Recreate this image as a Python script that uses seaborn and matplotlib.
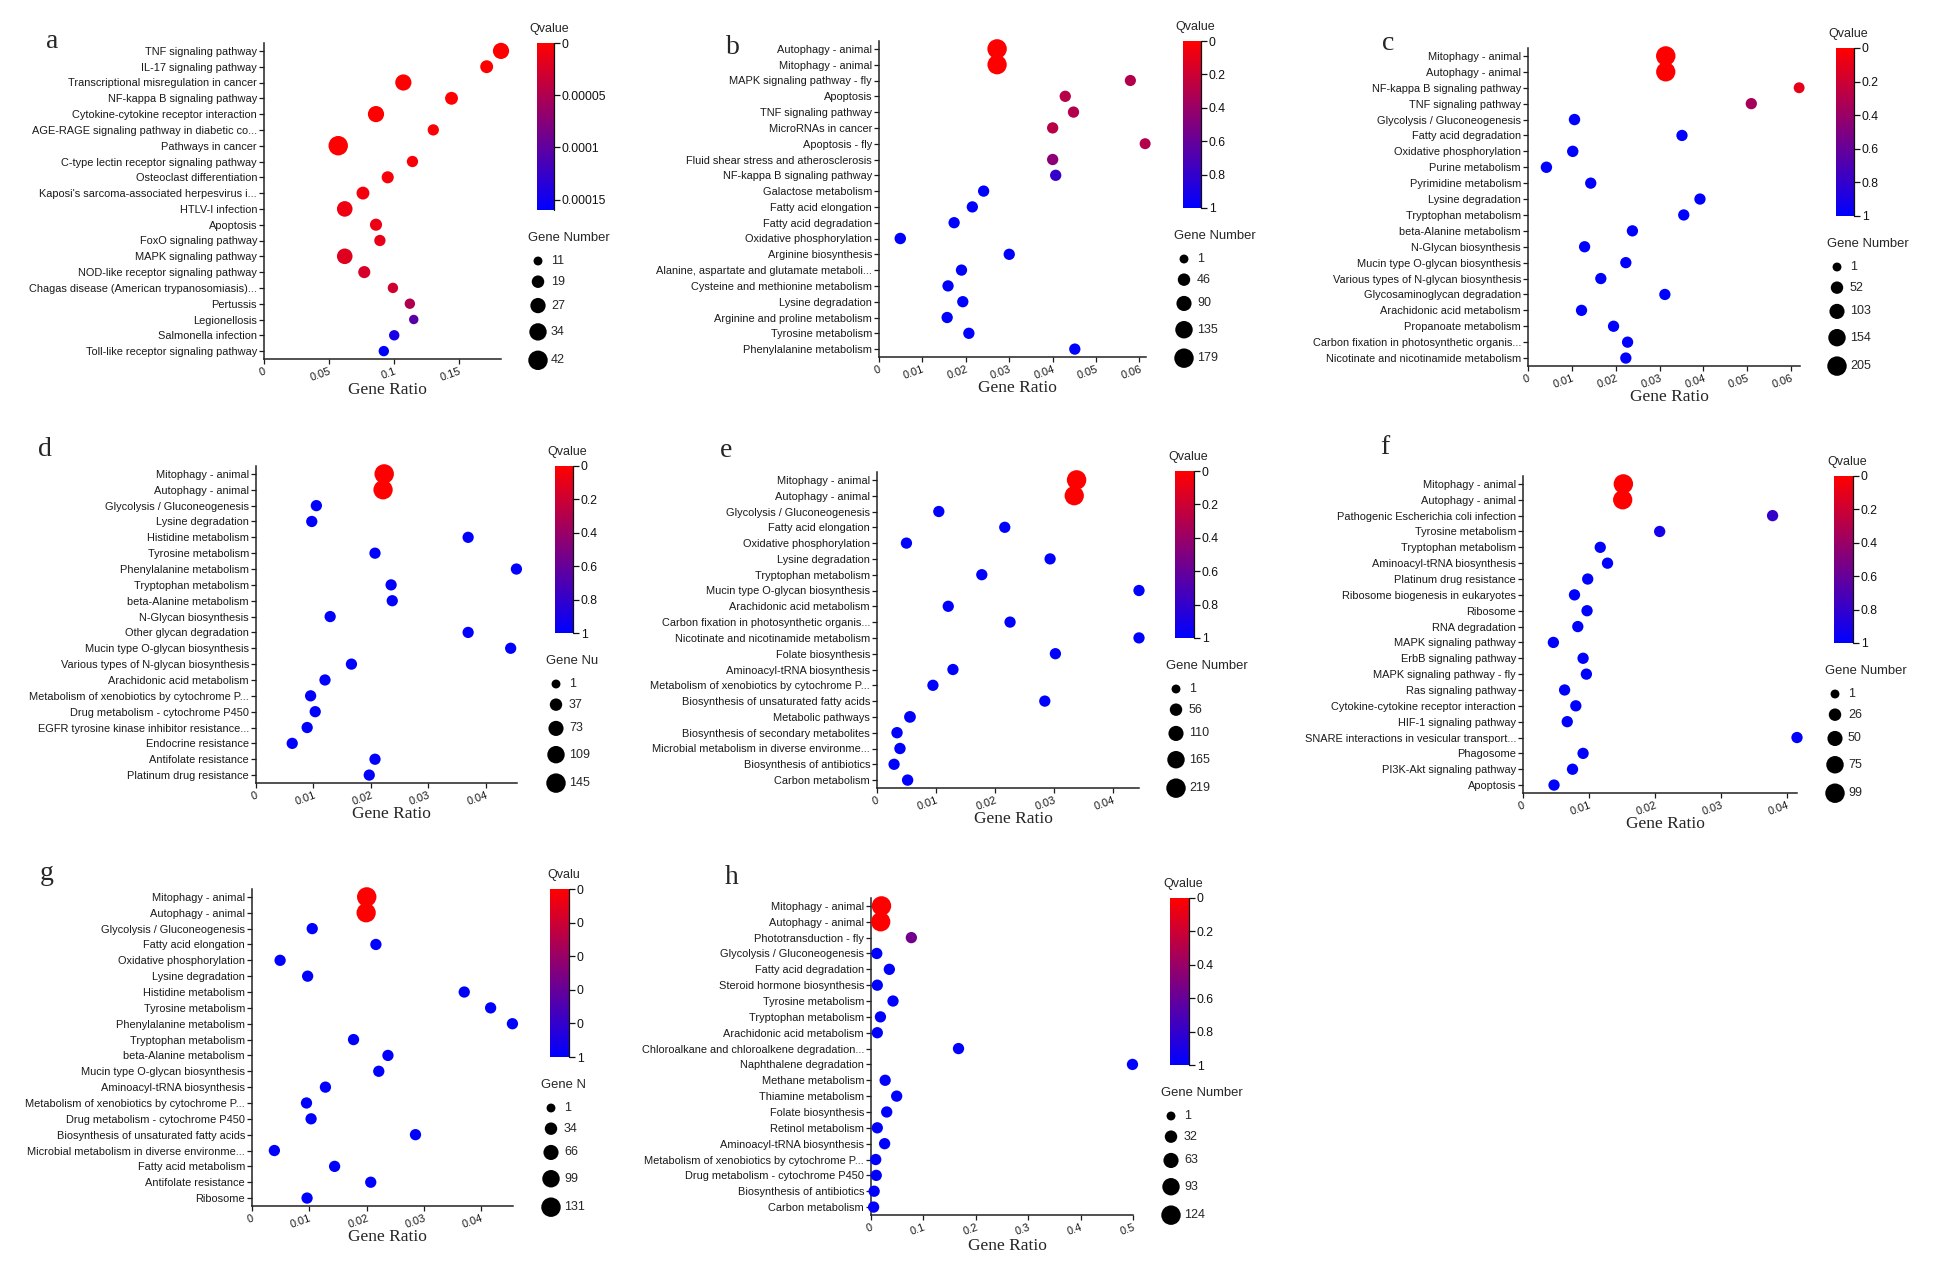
import numpy as np
import pandas as pd
import seaborn as sns
import matplotlib.pyplot as plt
from matplotlib.colors import LinearSegmentedColormap, Normalize
from matplotlib.cm import ScalarMappable
from matplotlib.ticker import FuncFormatter

W, H = 1960, 1265
S_MIN, S_MAX = 41, 196  # marker area (pt^2) for smallest / largest legend value

# ---- panel a
a_terms = ['TNF signaling pathway', 'IL-17 signaling pathway', 'Transcriptional misregulation in cancer',
           'NF-kappa B signaling pathway', 'Cytokine-cytokine receptor interaction',
           'AGE-RAGE signaling pathway in diabetic co...', 'Pathways in cancer',
           'C-type lectin receptor signaling pathway', 'Osteoclast differentiation',
           "Kaposi's sarcoma-associated herpesvirus i...", 'HTLV-I infection', 'Apoptosis',
           'FoxO signaling pathway', 'MAPK signaling pathway', 'NOD-like receptor signaling pathway',
           'Chagas disease (American trypanosomiasis)...', 'Pertussis', 'Legionellosis',
           'Salmonella infection', 'Toll-like receptor signaling pathway']
a_ratio = [0.182, 0.171, 0.107, 0.144, 0.086, 0.130, 0.057, 0.114, 0.095, 0.076,
           0.062, 0.086, 0.089, 0.062, 0.077, 0.099, 0.112, 0.115, 0.100, 0.092]
a_genes = [30, 20, 30, 20, 30, 16, 42, 16, 18, 20, 28, 18, 16, 28, 18, 14, 14, 12, 14, 14]
a_q = [0, 0, 0, 0, 0, 0.000002, 0, 0.000004, 0.000005, 0.000008, 0.00001, 0.000012,
       0.000015, 0.00002, 0.000025, 0.00003, 0.00005, 0.000105, 0.000145, 0.00016]
a_legend = [11, 19, 27, 34, 42]

# ---- panel b
b_terms = ['Autophagy - animal', 'Mitophagy - animal', 'MAPK signaling pathway - fly', 'Apoptosis',
           'TNF signaling pathway', 'MicroRNAs in cancer', 'Apoptosis - fly',
           'Fluid shear stress and atherosclerosis', 'NF-kappa B signaling pathway', 'Galactose metabolism',
           'Fatty acid elongation', 'Fatty acid degradation', 'Oxidative phosphorylation',
           'Arginine biosynthesis', 'Alanine, aspartate and glutamate metaboli...',
           'Cysteine and methionine metabolism', 'Lysine degradation', 'Arginine and proline metabolism',
           'Tyrosine metabolism', 'Phenylalanine metabolism']
b_ratio = [0.0272, 0.0272, 0.0579, 0.0429, 0.0448, 0.0400, 0.0613, 0.0400, 0.0407, 0.0241,
           0.0215, 0.0173, 0.0049, 0.0300, 0.0190, 0.0159, 0.0193, 0.0157, 0.0207, 0.0451]
b_genes = [179, 176, 28, 30, 30, 30, 26, 30, 30, 30, 30, 30, 32, 30, 30, 30, 30, 30, 30, 30]
b_q = [0, 0, 0.3, 0.28, 0.3, 0.28, 0.3, 0.45, 0.8, 1, 1, 1, 1, 1, 1, 1, 1, 1, 1, 1]
b_legend = [1, 46, 90, 135, 179]

# ---- panel c
c_terms = ['Mitophagy - animal', 'Autophagy - animal', 'NF-kappa B signaling pathway', 'TNF signaling pathway',
           'Glycolysis / Gluconeogenesis', 'Fatty acid degradation', 'Oxidative phosphorylation',
           'Purine metabolism', 'Pyrimidine metabolism', 'Lysine degradation', 'Tryptophan metabolism',
           'beta-Alanine metabolism', 'N-Glycan biosynthesis', 'Mucin type O-glycan biosynthesis',
           'Various types of N-glycan biosynthesis', 'Glycosaminoglycan degradation',
           'Arachidonic acid metabolism', 'Propanoate metabolism',
           'Carbon fixation in photosynthetic organis...', 'Nicotinate and nicotinamide metabolism']
c_ratio = [0.0314, 0.0314, 0.0618, 0.0509, 0.0106, 0.0351, 0.0102, 0.0042, 0.0143, 0.0392,
           0.0355, 0.0238, 0.0129, 0.0223, 0.0166, 0.0312, 0.0122, 0.0195, 0.0227, 0.0223]
c_genes = [205, 200, 28, 34, 36, 34, 36, 36, 34, 34, 34, 34, 34, 34, 34, 34, 34, 34, 34, 34]
c_q = [0, 0, 0.1, 0.35, 1, 1, 1, 1, 1, 1, 1, 1, 1, 1, 1, 1, 1, 1, 1, 1]
c_legend = [1, 52, 103, 154, 205]

# ---- panel d
d_terms = ['Mitophagy - animal', 'Autophagy - animal', 'Glycolysis / Gluconeogenesis', 'Lysine degradation',
           'Histidine metabolism', 'Tyrosine metabolism', 'Phenylalanine metabolism', 'Tryptophan metabolism',
           'beta-Alanine metabolism', 'N-Glycan biosynthesis', 'Other glycan degradation',
           'Mucin type O-glycan biosynthesis', 'Various types of N-glycan biosynthesis',
           'Arachidonic acid metabolism', 'Metabolism of xenobiotics by cytochrome P...',
           'Drug metabolism - cytochrome P450', 'EGFR tyrosine kinase inhibitor resistance...',
           'Endocrine resistance', 'Antifolate resistance', 'Platinum drug resistance']
d_ratio = [0.0223, 0.0221, 0.0105, 0.0097, 0.0369, 0.0207, 0.0453, 0.0235, 0.0237, 0.0129,
           0.0369, 0.0443, 0.0166, 0.0120, 0.0095, 0.0103, 0.0089, 0.0063, 0.0207, 0.0197]
d_genes = [145, 142, 24, 24, 24, 24, 24, 24, 24, 24, 24, 24, 24, 24, 24, 24, 24, 24, 24, 24]
d_q = [0, 0] + [1] * 18
d_legend = [1, 37, 73, 109, 145]

# ---- panel e
e_terms = ['Mitophagy - animal', 'Autophagy - animal', 'Glycolysis / Gluconeogenesis', 'Fatty acid elongation',
           'Oxidative phosphorylation', 'Lysine degradation', 'Tryptophan metabolism',
           'Mucin type O-glycan biosynthesis', 'Arachidonic acid metabolism',
           'Carbon fixation in photosynthetic organis...', 'Nicotinate and nicotinamide metabolism',
           'Folate biosynthesis', 'Aminoacyl-tRNA biosynthesis', 'Metabolism of xenobiotics by cytochrome P...',
           'Biosynthesis of unsaturated fatty acids', 'Metabolic pathways',
           'Biosynthesis of secondary metabolites', 'Microbial metabolism in diverse environme...',
           'Biosynthesis of antibiotics', 'Carbon metabolism']
e_ratio = [0.0339, 0.0335, 0.0105, 0.0217, 0.0050, 0.0294, 0.0178, 0.0445, 0.0121, 0.0226,
           0.0445, 0.0303, 0.0129, 0.0095, 0.0285, 0.0056, 0.0034, 0.0039, 0.0029, 0.0052]
e_genes = [219, 214, 36, 36, 36, 36, 36, 36, 36, 36, 36, 36, 36, 36, 36, 44, 38, 38, 36, 38]
e_q = [0, 0] + [1] * 18
e_legend = [1, 56, 110, 165, 219]

# ---- panel f
f_terms = ['Mitophagy - animal', 'Autophagy - animal', 'Pathogenic Escherichia coli infection',
           'Tyrosine metabolism', 'Tryptophan metabolism', 'Aminoacyl-tRNA biosynthesis',
           'Platinum drug resistance', 'Ribosome biogenesis in eukaryotes', 'Ribosome', 'RNA degradation',
           'MAPK signaling pathway', 'ErbB signaling pathway', 'MAPK signaling pathway - fly',
           'Ras signaling pathway', 'Cytokine-cytokine receptor interaction', 'HIF-1 signaling pathway',
           'SNARE interactions in vesicular transport...', 'Phagosome', 'PI3K-Akt signaling pathway',
           'Apoptosis']
f_ratio = [0.0152, 0.0151, 0.0378, 0.0207, 0.0117, 0.0128, 0.0098, 0.0078, 0.0097, 0.0083,
           0.0046, 0.0091, 0.0096, 0.0063, 0.0080, 0.0067, 0.0415, 0.0091, 0.0075, 0.0047]
f_genes = [99, 97, 17, 17, 17, 17, 17, 17, 17, 17, 17, 17, 17, 17, 17, 17, 17, 17, 17, 17]
f_q = [0, 0, 0.8, 0.92] + [1] * 16
f_legend = [1, 26, 50, 75, 99]

# ---- panel g
g_terms = ['Mitophagy - animal', 'Autophagy - animal', 'Glycolysis / Gluconeogenesis', 'Fatty acid elongation',
           'Oxidative phosphorylation', 'Lysine degradation', 'Histidine metabolism', 'Tyrosine metabolism',
           'Phenylalanine metabolism', 'Tryptophan metabolism', 'beta-Alanine metabolism',
           'Mucin type O-glycan biosynthesis', 'Aminoacyl-tRNA biosynthesis',
           'Metabolism of xenobiotics by cytochrome P...', 'Drug metabolism - cytochrome P450',
           'Biosynthesis of unsaturated fatty acids', 'Microbial metabolism in diverse environme...',
           'Fatty acid metabolism', 'Antifolate resistance', 'Ribosome']
g_ratio = [0.0200, 0.0199, 0.0105, 0.0216, 0.0049, 0.0097, 0.0370, 0.0416, 0.0454, 0.0177,
           0.0237, 0.0221, 0.0128, 0.0095, 0.0103, 0.0285, 0.0039, 0.0144, 0.0207, 0.0096]
g_genes = [131, 128, 22, 22, 22, 22, 22, 22, 22, 22, 22, 22, 22, 22, 22, 22, 22, 22, 22, 22]
g_q = [0, 0] + [1] * 18
g_legend = [1, 34, 66, 99, 131]

# ---- panel h
h_terms = ['Mitophagy - animal', 'Autophagy - animal', 'Phototransduction - fly', 'Glycolysis / Gluconeogenesis',
           'Fatty acid degradation', 'Steroid hormone biosynthesis', 'Tyrosine metabolism',
           'Tryptophan metabolism', 'Arachidonic acid metabolism',
           'Chloroalkane and chloroalkene degradation...', 'Naphthalene degradation', 'Methane metabolism',
           'Thiamine metabolism', 'Folate biosynthesis', 'Retinol metabolism', 'Aminoacyl-tRNA biosynthesis',
           'Metabolism of xenobiotics by cytochrome P...', 'Drug metabolism - cytochrome P450',
           'Biosynthesis of antibiotics', 'Carbon metabolism']
h_ratio = [0.020, 0.0185, 0.077, 0.011, 0.035, 0.012, 0.042, 0.018, 0.012, 0.167,
           0.499, 0.027, 0.049, 0.030, 0.012, 0.026, 0.009, 0.010, 0.006, 0.005]
h_genes = [124, 122, 21, 21, 21, 21, 21, 21, 21, 21, 21, 21, 21, 21, 21, 21, 21, 21, 21, 21]
h_q = [0, 0, 0.55] + [1] * 17
h_legend = [1, 32, 63, 93, 124]

q_ticks_01 = [0, 0.2, 0.4, 0.6, 0.8, 1]
a_q_ticks = [0, 0.00005, 0.0001, 0.00015]
a_q_labels = ['0', '0.00005', '0.0001', '0.00015']
g_q_labels = ['0', '0', '0', '0', '0', '1']

sns.set_theme(style='white')
plt.rcParams['font.family'] = ['Liberation Sans', 'DejaVu Sans']
SERIF = ['Liberation Serif', 'DejaVu Serif']

qcmap = LinearSegmentedColormap.from_list('qvalue', ['#ff0000', '#0000ff'])

fig = plt.figure(figsize=(W / 100, H / 100), dpi=100)
fig.patch.set_facecolor('white')


def px_axes(left, top, right, bottom):
    return fig.add_axes([left / W, 1 - bottom / H, (right - left) / W, (bottom - top) / H])


def area(v, lo, hi):
    return S_MIN + (v - lo) / (hi - lo) * (S_MAX - S_MIN)


def dot_panel(terms, ratio, genes, q, legend_vals, box, cbar, xmax, xticks,
              qmax, qticks, qlabels=None, qtitle='Qvalue', gtitle='Gene Number'):
    df = pd.DataFrame({'term': terms, 'ratio': ratio, 'genes': genes, 'q': q})
    df['row'] = np.arange(len(df))
    ax = px_axes(*box)
    sns.scatterplot(data=df, x='ratio', y='row', hue='q', size='genes', palette=qcmap,
                    hue_norm=(0, qmax), sizes=(S_MIN, S_MAX),
                    size_norm=(legend_vals[0], legend_vals[-1]),
                    legend=False, linewidth=0, alpha=1, clip_on=False, zorder=3, ax=ax)
    ax.set_xlim(0, xmax)
    ax.set_ylim(len(df) - 0.5, -0.5)
    ax.set_yticks(df['row'], df['term'])
    ax.set_xticks(xticks)
    ax.xaxis.set_major_formatter(FuncFormatter(lambda v, p: f'{v:g}'))
    for s in ['top', 'right']:
        ax.spines[s].set_visible(False)
    for s in ['left', 'bottom']:
        ax.spines[s].set_linewidth(1.1)
        ax.spines[s].set_color('#222222')
    ax.tick_params(axis='y', labelsize=7.9, length=3.5, width=0.9, pad=1.5, left=True, colors='#1a1a1a')
    ax.tick_params(axis='x', labelsize=7.9, length=3.5, width=0.9, pad=2, bottom=True, colors='#1a1a1a')
    for lab in ax.get_xticklabels():
        lab.set_rotation(20)
        lab.set_ha('right')
        lab.set_rotation_mode('anchor')
    ax.set_ylabel('')
    ax.set_xlabel('Gene Ratio', family=SERIF, fontsize=12.5)
    ax_h = box[3] - box[1]
    ax.xaxis.set_label_coords(0.52, -31 / ax_h)
    ax.xaxis.label.set_va('center')

    # colour bar, 0 at the top
    cax = px_axes(*cbar)
    cb = fig.colorbar(ScalarMappable(Normalize(0, qmax), qcmap), cax=cax)
    cax.invert_yaxis()
    cb.outline.set_visible(False)
    if qlabels is None:
        qlabels = [f'{t:g}' for t in qticks]
    cb.set_ticks(qticks, labels=qlabels)
    cax.tick_params(labelsize=8.8, length=4, width=0.9, pad=1.5, colors='#111111')
    cax.axvline(1, color='#111111', lw=0.9, clip_on=False)
    cax.annotate(qtitle, xy=(0.7, 1), xycoords='axes fraction', xytext=(0, 6),
                 textcoords='offset points', ha='center', va='bottom', fontsize=9)

    # gene number legend
    left, top, right, bottom = cbar
    lax = px_axes(left - 30, bottom + 12, left + 70, bottom + 175)
    lax.set_xlim(left - 30, left + 70)
    lax.set_ylim(bottom + 175, bottom + 12)
    lax.axis('off')
    lax.text(left - 9, bottom + 28, gtitle, ha='left', va='center', fontsize=9.4)
    sizes = [area(v, legend_vals[0], legend_vals[-1]) for v in legend_vals]
    radii = [np.sqrt(s) / 72 * 100 / 2 for s in sizes]
    ys = [bottom + 51]
    for i in range(1, len(sizes)):
        ys.append(ys[-1] + radii[i - 1] + radii[i] + 10)
    xs = [left + 1] * len(sizes)
    lax.scatter(xs, ys, s=sizes, color='black', linewidth=0, clip_on=False)
    for y, v in zip(ys, legend_vals):
        lax.text(left + 14, y, str(v), ha='left', va='center', fontsize=9)
    return ax


panels = [
    ('a', a_terms, a_ratio, a_genes, a_q, a_legend, (264, 43, 501, 359), (537, 43, 554, 210),
     0.182, [0, 0.05, 0.1, 0.15], 0.00016, a_q_ticks, a_q_labels, 'Qvalue', 'Gene Number', (52, 42)),
    ('b', b_terms, b_ratio, b_genes, b_q, b_legend, (879, 41, 1146, 357), (1183, 41, 1201, 208),
     0.0615, [0, 0.01, 0.02, 0.03, 0.04, 0.05, 0.06], 1, q_ticks_01, None, 'Qvalue', 'Gene Number', (733, 47)),
    ('c', c_terms, c_ratio, c_genes, c_q, c_legend, (1528, 48, 1800, 366), (1836, 48, 1854, 216),
     0.062, [0, 0.01, 0.02, 0.03, 0.04, 0.05, 0.06], 1, q_ticks_01, None, 'Qvalue', 'Gene Number', (1388, 43)),
    ('d', d_terms, d_ratio, d_genes, d_q, d_legend, (256, 466, 517, 783), (555, 466, 573, 633),
     0.0454, [0, 0.01, 0.02, 0.03, 0.04], 1, q_ticks_01, None, 'Qvalue', 'Gene Nu', (45, 450)),
    ('e', e_terms, e_ratio, e_genes, e_q, e_legend, (877, 472, 1139, 788), (1175, 471, 1194, 638),
     0.0445, [0, 0.01, 0.02, 0.03, 0.04], 1, q_ticks_01, None, 'Qvalue', 'Gene Number', (726, 451)),
    ('f', f_terms, f_ratio, f_genes, f_q, f_legend, (1523, 476, 1797, 793), (1834, 476, 1853, 643),
     0.0415, [0, 0.01, 0.02, 0.03, 0.04], 1, q_ticks_01, None, 'Qvalue', 'Gene Number', (1385, 448)),
    ('g', g_terms, g_ratio, g_genes, g_q, g_legend, (252, 889, 513, 1206), (550, 889, 569, 1057),
     0.0455, [0, 0.01, 0.02, 0.03, 0.04], 1, q_ticks_01, g_q_labels, 'Qvalu', 'Gene N', (47, 873)),
    ('h', h_terms, h_ratio, h_genes, h_q, h_legend, (871, 898, 1133, 1215), (1170, 898, 1189, 1065),
     0.5, [0, 0.1, 0.2, 0.3, 0.4, 0.5], 1, q_ticks_01, None, 'Qvalue', 'Gene Number', (732, 877)),
]

for (letter, terms, ratio, genes, q, leg, box, cbar, xmax, xticks,
     qmax, qticks, qlabels, qtitle, gtitle, lpos) in panels:
    dot_panel(terms, ratio, genes, q, leg, box, cbar, xmax, xticks,
              qmax, qticks, qlabels, qtitle, gtitle)
    fig.text(lpos[0] / W, 1 - lpos[1] / H, letter, family=SERIF, fontsize=20,
             ha='center', va='center')

fig.savefig('out.png', dpi=100, facecolor='white')
